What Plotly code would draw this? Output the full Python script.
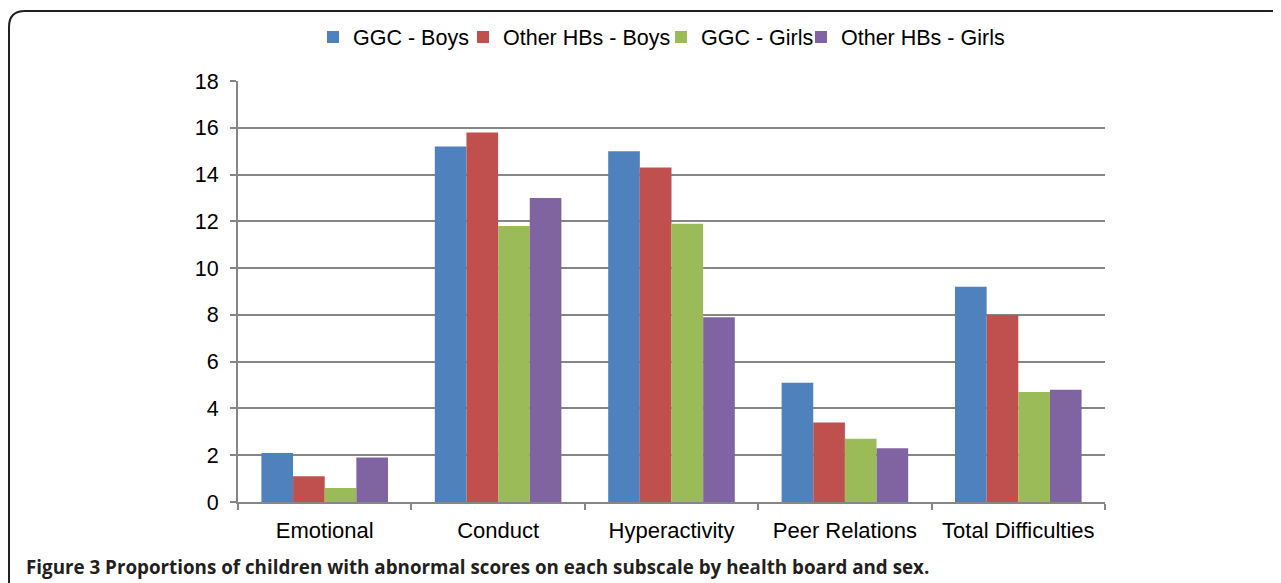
import plotly.graph_objects as go

categories = ["Emotional", "Conduct", "Hyperactivity", "Peer Relations", "Total Difficulties"]
series_names = ["GGC - Boys", "Other HBs - Boys", "GGC - Girls", "Other HBs - Girls"]
ggc_boys = [2.1, 15.2, 15.0, 5.1, 9.2]
other_boys = [1.1, 15.8, 14.3, 3.4, 8.0]
ggc_girls = [0.6, 11.8, 11.9, 2.7, 4.7]
other_girls = [1.9, 13.0, 7.9, 2.3, 4.8]
colors = ["#4F81BD", "#C0504D", "#9BBB59", "#8064A2"]
y_ticks = [0, 2, 4, 6, 8, 10, 12, 14, 16, 18]
caption = "Figure 3 Proportions of children with abnormal scores on each subscale by health board and sex."

W, H = 1281, 583
OFF = 8  # page body margin offset
def px(x):
    return (x - OFF) / W
def py(y):
    return 1 - (y - OFF) / H

legend_ids = ["legend", "legend2", "legend3", "legend4"]
legend_text_x = [353, 503, 701, 841]  # where each legend text begins (px)

fig = go.Figure()
for name, vals, c, lid in zip(series_names, [ggc_boys, other_boys, ggc_girls, other_girls], colors, legend_ids):
    fig.add_trace(go.Bar(x=categories, y=vals, name=name, legend=lid,
                         marker=dict(color=c, line=dict(width=0))))

font_main = "Liberation Sans, Arial, sans-serif"
fig.update_layout(
    width=W, height=H,
    margin=dict(l=0, r=0, t=0, b=0),
    paper_bgcolor="white", plot_bgcolor="white",
    barmode="group", bargap=0.27, bargroupgap=0,
    font=dict(family=font_main, size=21.5, color="#000000"),
    showlegend=True,
    xaxis=dict(domain=[px(238), px(1105)], showline=True, linecolor="#868686", linewidth=2,
               ticks="outside", tickson="boundaries", ticklen=6, tickcolor="#868686", tickwidth=2,
               tickfont=dict(size=22), automargin=False, showgrid=False, ticklabelstandoff=8),
    yaxis=dict(domain=[py(502), py(81)], range=[0, 18], tickvals=y_ticks, showline=True,
               linecolor="#868686", linewidth=2, ticks="outside", ticklen=6, tickcolor="#868686",
               tickwidth=2, showgrid=True, gridcolor="#868686", gridwidth=2, zeroline=False,
               tickfont=dict(size=21.5), automargin=False, ticklabelstandoff=7),
)
for lid, tx in zip(legend_ids, legend_text_x):
    fig.update_layout({lid: dict(orientation="h", x=px(tx - 40), xanchor="left", y=py(37),
                                 yanchor="middle", font=dict(size=21.5, family=font_main),
                                 itemwidth=30, bgcolor="rgba(0,0,0,0)", borderwidth=0)})

# rounded border
x0, y0, r = 9, 11, 16
path = (f"M {px(x0)},{py(H+20)} L {px(x0)},{py(y0+r)} "
        f"Q {px(x0)},{py(y0)} {px(x0+r)},{py(y0)} L {px(W+20)},{py(y0)}")
fig.add_shape(type="path", path=path, xref="paper", yref="paper",
              line=dict(color="#231f20", width=2))

fig.add_annotation(x=px(24), y=py(567), xref="paper", yref="paper", xanchor="left", yanchor="middle",
                   text="<b>" + caption + "</b>", showarrow=False,
                   font=dict(family="Open Sans, sans-serif", size=18.8, color="#231f20"))

fig.write_html("out.html")
